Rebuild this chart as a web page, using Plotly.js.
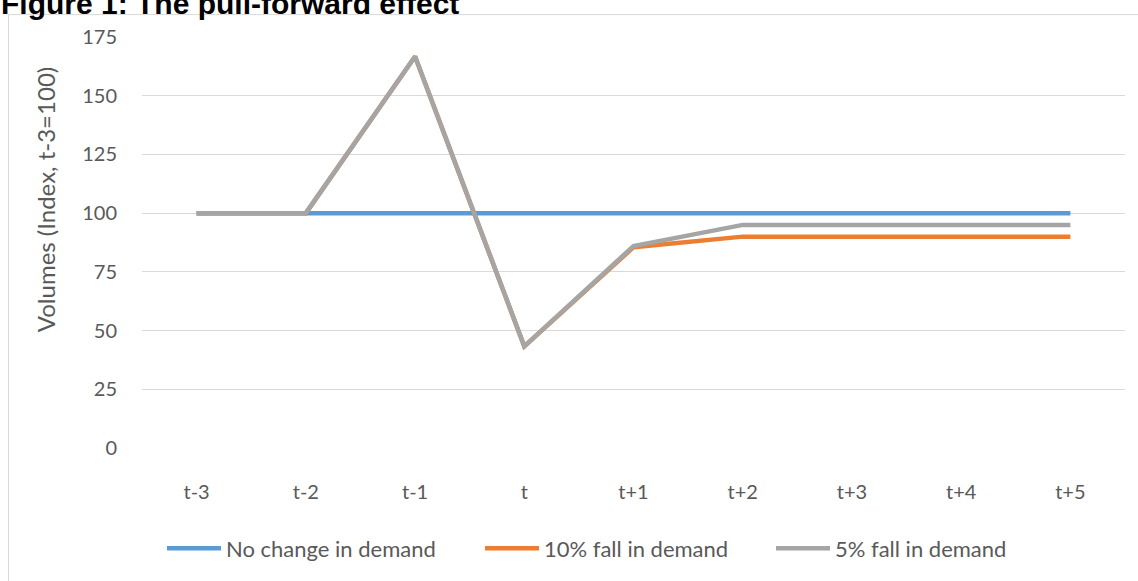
<!DOCTYPE html>
<html>
<head>
<meta charset="utf-8">
<script src="https://cdn.plot.ly/plotly-3.0.1.min.js"></script>
<style>html,body{margin:0;padding:0;background:#fff;}#chart{width:1138px;height:581px;}</style>
</head>
<body>
<div id="chart"></div>
<script>
const categories = ["t-3","t-2","t-1","t","t+1","t+2","t+3","t+4","t+5"];
const noChange = [100,100,100,100,100,100,100,100,100];
const fall10 = [100,100,166.7,43.3,85.5,90,90,90,90];
const fall5 = [100,100,166.7,43.3,86,95,95,95,95];
const yTicks = [0,25,50,75,100,125,150,175];

const FONT = "Lato, 'Open Sans', sans-serif";
const TXT = "#595959";

function line(name, y, color, legendId) {
  return {type:"scatter", mode:"lines", name:name, x:categories, y:y, legend:legendId,
    line:{color:color, width:4.5, shape:"linear"}, hoverinfo:"skip"};
}

const data = [
  line("No change in demand", noChange, "#5B9BD5", "legend"),
  line("10% fall in demand", fall10, "#ED7D31", "legend2"),
  line("5% fall in demand", fall5, "#A5A5A5", "legend3")
];

const L = 142, R = 1125, T = 37, B = 450;
const pw = R - L, ph = B - T;
const px = v => (v - L) / pw;
const py = v => (B - v) / ph;

function leg(xStart) {
  return {orientation:"h", x:px(xStart - 5), xanchor:"left", y:py(551), yanchor:"middle",
    itemwidth:54, font:{family:FONT, size:22, color:TXT}, bgcolor:"rgba(0,0,0,0)", borderwidth:0};
}

const layout = {
  width:1138, height:581,
  margin:{l:L, r:1138-R, t:T, b:581-B, pad:0},
  paper_bgcolor:"#fff", plot_bgcolor:"#fff",
  font:{family:FONT, color:TXT, size:20},
  showlegend:true,
  legend:leg(167), legend2:leg(485), legend3:leg(776),
  xaxis:{type:"category", range:[-0.5, 8.5], showgrid:false, zeroline:false, showline:false,
    ticks:"", ticklabelstandoff:30, tickfont:{family:FONT, size:20, color:TXT}, fixedrange:true},
  yaxis:{range:[0,175], tickvals:yTicks, showgrid:true, gridcolor:"#D9D9D9", gridwidth:1,
    zeroline:false, showline:false, ticks:"", ticklabelstandoff:24,
    tickfont:{family:FONT, size:20, color:TXT}, fixedrange:true},
  shapes:[{type:"rect", xref:"paper", yref:"paper", x0:px(8.5), x1:px(1200), y0:py(700), y1:py(14.5),
    line:{color:"#D9D9D9", width:1}, fillcolor:"rgba(0,0,0,0)", layer:"below"}],
  annotations:[
    {xref:"paper", yref:"paper", x:px(45), y:py(201), text:"Volumes (Index, t-3=100)", textangle:-90,
      showarrow:false, xanchor:"center", yanchor:"middle", font:{family:FONT, size:24, color:TXT}},
    {xref:"paper", yref:"paper", x:px(0), y:py(21), text:"<b>Figure 1: The pull-forward effect</b>",
      showarrow:false, xanchor:"left", yanchor:"bottom", borderpad:0,
      font:{family:"'Liberation Sans', Arial, sans-serif", size:30, color:"#000"}}
  ]
};

Plotly.newPlot("chart", data, layout, {displayModeBar:false, staticPlot:true});
</script>
</body>
</html>
